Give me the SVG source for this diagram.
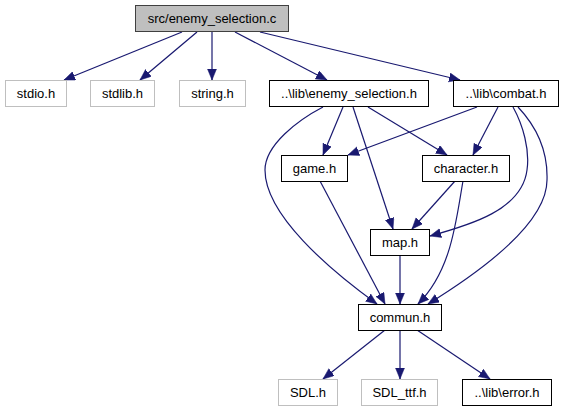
<svg xmlns="http://www.w3.org/2000/svg" width="565" height="411" viewBox="0 0 565 411">
<style>
.n rect{fill:#ffffff;stroke:#000000;stroke-width:1}
.n.ext rect{stroke:#bfbfbf}
.n.root rect{fill:#bfbfbf;stroke:#404040}
.n text{font-family:"Liberation Sans",Arial,sans-serif;font-size:13px;text-anchor:middle;fill:#000000}
#edges path{fill:none;stroke:#191970;stroke-width:1.2;marker-end:url(#arr)}
</style>
<defs>
<marker id="arr" markerUnits="userSpaceOnUse" markerWidth="12" markerHeight="10" refX="11" refY="4.5" orient="auto">
<path d="M0,0 L11,4.5 L0,9 z" fill="#191970" stroke="#191970" stroke-width="0.5"/>
</marker>
</defs>
<rect width="565" height="411" fill="#ffffff"/>
<g id="edges">
<path d="M182,32 L64,80"/>
<path d="M197,32 L140,80"/>
<path d="M212,32 L212,80"/>
<path d="M235,32 L327,80"/>
<path d="M260,32 L460,80"/>
<path d="M343,107 L323,155"/>
<path d="M353,107 L393,229"/>
<path d="M368,107 L447,155"/>
<path d="M323,107 C298,120 265,145 265,170 C265,215 330,270 377,304"/>
<path d="M477,107 L348,155"/>
<path d="M498,107 L473,155"/>
<path d="M513,107 C523,125 530,150 527,170 C522,210 470,225 430,236"/>
<path d="M518,107 C535,125 548,150 547,180 C547,225 475,275 428,304"/>
<path d="M455,181 L412,229"/>
<path d="M463,181 C456,220 452,270 418,304"/>
<path d="M320,181 L385,304"/>
<path d="M400,255 L400,304"/>
<path d="M385,330 L323,379"/>
<path d="M400,330 L400,379"/>
<path d="M417,330 L490,379"/>
</g>
<g id="root" class="n root"><rect x="135.5" y="5.5" width="153" height="26"/><text x="212" y="22.5">src/enemy_selection.c</text></g>
<g id="stdio" class="n ext"><rect x="5.5" y="80.5" width="61" height="26"/><text x="36" y="97.5">stdio.h</text></g>
<g id="stdlib" class="n ext"><rect x="90.5" y="80.5" width="64" height="26"/><text x="122.5" y="97.5">stdlib.h</text></g>
<g id="string" class="n ext"><rect x="179.5" y="80.5" width="66" height="26"/><text x="212.5" y="97.5">string.h</text></g>
<g id="enemy_selection_h" class="n"><rect x="269.5" y="80.5" width="159" height="26"/><text x="349" y="97.5">..\lib\enemy_selection.h</text></g>
<g id="combat_h" class="n"><rect x="453.5" y="80.5" width="105" height="26"/><text x="506" y="97.5">..\lib\combat.h</text></g>
<g id="game_h" class="n"><rect x="281.5" y="155.5" width="66" height="26"/><text x="314.5" y="172.5">game.h</text></g>
<g id="character_h" class="n"><rect x="422.5" y="155.5" width="87" height="26"/><text x="466" y="172.5">character.h</text></g>
<g id="map_h" class="n"><rect x="370.5" y="229.5" width="59" height="26"/><text x="400" y="246.5">map.h</text></g>
<g id="commun_h" class="n"><rect x="358.5" y="304.5" width="83" height="26"/><text x="400" y="321.5">commun.h</text></g>
<g id="SDL_h" class="n ext"><rect x="278.5" y="379.5" width="59" height="26"/><text x="308" y="396.5">SDL.h</text></g>
<g id="SDL_ttf_h" class="n ext"><rect x="361.5" y="379.5" width="76" height="26"/><text x="399.5" y="396.5">SDL_ttf.h</text></g>
<g id="error_h" class="n"><rect x="462.5" y="379.5" width="89" height="26"/><text x="507" y="396.5">..\lib\error.h</text></g>
</svg>
